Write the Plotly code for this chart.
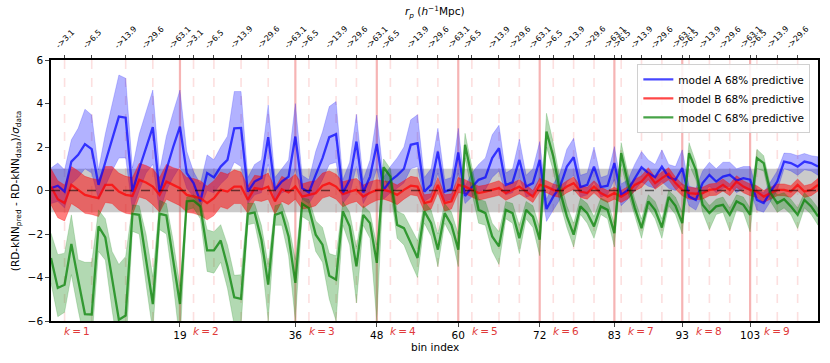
import plotly.graph_objects as go

# bin index (x) and the three models' 68% predictive bands
bins = list(range(114))

A_mid = [0.11, 0.22, -0.05, 1.33, 1.64, 2.13, 1.90, 0.26, 1.30, 2.40,
         3.40, 3.35, -0.05, 1.00, 2.00, 2.91, -0.09, 1.00, 2.00, 2.94,
         0.80, 0.34, -0.50, 0.80, 0.60, 1.10, 1.41, 2.86, 2.88, -0.05,
         0.41, 0.57, 2.45, 0.03, 0.41, 0.64, 2.48, 0.11, -0.09, 0.72,
         1.49, 2.45, 2.59, -0.12, 0.49, 2.25, -0.09, 0.64, 2.14, 0.03,
         0.45, 0.70, 1.00, 2.10, 2.18, -0.05, 0.26, 1.79, -0.05, 0.06,
         1.75, -0.25, 0.15, 0.49, 0.60, 1.49, 1.95, 0.26, 0.37, 1.41,
         0.18, 0.34, 1.41, -0.85, -0.28, 0.18, 1.10, 1.53, 0.16, 0.26,
         1.10, 0.16, 0.22, 1.26, -0.20, 0.03, 0.57, 1.07, 0.80, 0.61,
         1.10, 0.61, 0.49, 1.03, -0.28, -0.43, 0.34, 0.72, 0.41, 0.64,
         0.72, 0.46, 0.57, 0.50, -0.43, -0.58, -0.05, 0.41, 1.33, 1.26,
         1.10, 1.33, 1.26, 1.10]
A_hi = [1.03, 1.26, 0.95, 2.33, 2.86, 3.74, 3.47, 0.95, 2.60, 4.00,
        5.31, 5.16, 1.03, 2.60, 3.60, 4.62, 0.90, 2.50, 3.60, 4.62,
        1.80, 0.87, 0.30, 1.64, 1.41, 2.00, 2.50, 4.55, 4.55, 0.60,
        1.20, 1.40, 3.93, 0.60, 1.00, 1.40, 4.00, 0.70, 0.50, 1.80,
        2.70, 3.86, 4.09, 0.50, 1.30, 3.50, 0.50, 1.40, 3.47, 0.60,
        1.10, 1.50, 2.00, 3.25, 3.48, 0.60, 1.00, 2.86, 0.50, 0.60,
        2.86, 0.20, 0.80, 1.20, 1.50, 2.56, 3.00, 0.80, 1.00, 2.36,
        0.70, 1.00, 2.25, -0.40, 0.30, 0.80, 1.90, 2.40, 0.70, 0.80,
        2.00, 0.60, 0.70, 2.02, 0.30, 0.50, 1.20, 1.79, 1.40, 1.20,
        1.87, 1.20, 1.10, 1.87, 0.20, 0.10, 0.90, 1.30, 1.00, 1.30,
        1.30, 1.00, 1.10, 1.10, 0.00, -0.10, 0.40, 0.90, 1.72, 1.70,
        1.60, 1.70, 1.60, 1.55]
A_lo = [-0.60, -0.50, -0.80, 0.30, 0.60, 1.00, 0.80, -0.40, 0.20, 0.90,
        1.49, 1.50, -0.90, 0.00, 0.80, 1.20, -1.00, 0.00, 0.60, 1.10,
        0.10, -0.30, -0.80, 0.00, -0.10, 0.30, 0.60, 1.30, 1.10, -0.60,
        -0.20, -0.10, 1.20, -0.50, -0.10, 0.00, 1.00, -0.40, -0.60, -0.10,
        0.50, 1.20, 1.30, -0.60, -0.20, 1.10, -0.60, 0.00, 1.00, -0.40,
        -0.10, 0.10, 0.35, 1.00, 1.10, -0.50, -0.30, 0.80, -0.50, -0.40,
        0.80, -0.60, -0.30, -0.05, 0.05, 0.60, 0.90, -0.20, -0.10, 0.60,
        -0.30, -0.20, 0.60, -1.42, -0.90, -0.40, 0.40, 0.70, -0.30, -0.20,
        0.40, -0.30, -0.20, 0.50, -0.70, -0.40, 0.00, 0.40, 0.20, 0.10,
        0.40, 0.10, 0.00, 0.30, -0.70, -0.90, -0.20, 0.20, -0.10, 0.10,
        0.20, -0.10, 0.10, 0.00, -0.90, -1.00, -0.50, 0.00, 1.00, 0.90,
        0.70, 0.95, 0.90, 0.70]

B_mid = [0.18, -0.40, -0.58, 0.26, 0.03, -0.20, -0.28, -0.35, 0.26, 0.26,
         -0.05, -0.20, -0.25, 0.49, 0.37, 0.18, -0.20, 0.41, 0.26, 0.11,
         -0.20, -0.28, -0.35, -0.58, -0.35, 0.03, -0.05, 0.18, 0.18, -0.43,
         0.11, 0.06, 0.18, -0.50, 0.06, -0.09, 0.18, -0.28, -0.20, -0.12,
         0.22, 0.34, 0.18, -0.17, -0.05, 0.03, -0.28, -0.10, 0.03, 0.03,
         -0.05, -0.20, 0.03, 0.22, 0.18, -0.58, -0.50, 0.26, -0.58, -0.50,
         0.26, 0.18, 0.03, -0.12, -0.05, 0.03, 0.11, -0.12, 0.03, 0.18,
         -0.05, -0.28, 0.26, 0.18, 0.03, -0.05, 0.18, 0.34, -0.05, -0.12,
         0.18, -0.12, -0.28, -0.12, -0.28, -0.10, 0.26, 0.41, 0.77, 0.34,
         0.57, 0.77, 0.34, 0.03, -0.12, -0.15, -0.12, 0.03, 0.06, 0.26,
         0.03, 0.41, 0.18, 0.03, -0.05, -0.28, -0.12, 0.03, 0.03, -0.05,
         0.26, -0.05, 0.03, 0.26]
B_hi = [1.00, 0.45, 0.25, 1.10, 0.90, 0.65, 0.55, 0.50, 1.10, 1.10,
        0.80, 0.65, 0.60, 1.25, 1.15, 1.00, 0.60, 1.20, 1.05, 0.95,
        0.60, 0.55, 0.45, 0.20, 0.45, 0.85, 0.75, 0.95, 0.85, 0.20,
        0.70, 0.65, 0.80, 0.10, 0.65, 0.50, 0.75, 0.30, 0.40, 0.45,
        0.80, 0.90, 0.75, 0.40, 0.50, 0.55, 0.25, 0.40, 0.50, 0.45,
        0.40, 0.25, 0.45, 0.65, 0.60, -0.20, -0.15, 0.60, -0.20, -0.15,
        0.60, 0.50, 0.35, 0.20, 0.25, 0.35, 0.45, 0.20, 0.35, 0.50,
        0.25, 0.00, 0.55, 0.45, 0.30, 0.22, 0.45, 0.62, 0.22, 0.15,
        0.45, 0.15, 0.00, 0.15, 0.00, 0.18, 0.52, 0.68, 1.05, 0.62,
        0.85, 1.05, 0.62, 0.30, 0.15, 0.12, 0.15, 0.30, 0.33, 0.53,
        0.30, 0.68, 0.45, 0.30, 0.22, 0.00, 0.15, 0.30, 0.30, 0.22,
        0.53, 0.22, 0.30, 0.55]
B_lo = [-0.65, -1.25, -1.40, -0.60, -0.80, -1.05, -1.10, -1.20, -0.55, -0.60,
        -0.90, -1.05, -1.10, -0.30, -0.40, -0.65, -1.00, -0.40, -0.55, -0.70,
        -1.00, -1.05, -1.15, -1.35, -1.15, -0.75, -0.85, -0.60, -0.60, -1.05,
        -0.45, -0.50, -0.40, -1.10, -0.50, -0.65, -0.40, -0.85, -0.80, -0.70,
        -0.35, -0.25, -0.40, -0.75, -0.60, -0.50, -0.80, -0.60, -0.45, -0.40,
        -0.50, -0.65, -0.40, -0.20, -0.25, -0.95, -0.85, -0.10, -0.95, -0.85,
        -0.10, -0.15, -0.30, -0.45, -0.35, -0.30, -0.22, -0.45, -0.30, -0.15,
        -0.35, -0.55, -0.05, -0.10, -0.25, -0.32, -0.10, 0.05, -0.32, -0.40,
        -0.10, -0.40, -0.55, -0.40, -0.55, -0.38, -0.02, 0.14, 0.50, 0.06,
        0.29, 0.49, 0.06, -0.24, -0.40, -0.42, -0.40, -0.24, -0.22, -0.02,
        -0.24, 0.14, -0.10, -0.24, -0.32, -0.55, -0.40, -0.24, -0.24, -0.32,
        -0.02, -0.32, -0.24, -0.02]

C_mid = [-3.10, -4.48, -4.33, -2.46, -4.10, -5.68, -5.70, -1.65, -2.16, -4.00,
         -5.94, -5.75, -1.07, -1.12, -3.10, -5.22, -1.07, -1.15, -3.20, -5.22,
         -0.50, -0.47, -0.73, -2.75, -2.75, -2.30, -3.49, -4.91, -4.98, -1.07,
         -1.01, -2.26, -4.33, -1.12, -1.01, -2.11, -4.25, -0.61, -0.81, -2.03,
         -2.49, -3.92, -4.10, -0.96, -1.65, -3.49, -1.12, -1.50, -3.33, 1.07,
         0.64, -1.58, -1.73, -2.40, -3.10, -0.96, -1.50, -2.72, -1.04, -1.58,
         -2.72, 2.10, 0.64, -0.89, -1.04, -2.11, -2.57, -0.89, -1.04, -2.19,
         -0.89, -1.20, -2.26, 2.71, 1.56, -0.04, -1.19, -2.03, -0.73, -1.04,
         -1.65, -0.73, -0.89, -1.96, 1.72, 0.34, -0.80, -1.73, -0.50, -0.90,
         -1.70, -0.30, -0.70, -1.50, 1.72, 0.95, -0.66, -1.04, -0.73, -0.66,
         -1.12, -0.50, -0.66, -1.12, 1.49, 1.26, -0.12, -0.58, -0.40, -0.73,
         -1.12, -0.43, -0.73, -1.19]
C_hi = [-1.96, -2.95, -2.88, -1.12, -3.18, -3.30, -3.30, -0.89, -1.30, -2.80,
        -3.40, -3.03, -0.66, -0.70, -2.00, -3.95, -0.45, -0.60, -2.30, -4.40,
        -0.30, -0.20, -0.40, -1.80, -1.90, -1.57, -2.50, -3.90, -3.87, -0.58,
        -0.60, -1.60, -3.40, -0.70, -0.60, -1.50, -3.18, -0.35, -0.40, -1.40,
        -1.70, -2.90, -3.00, -0.50, -1.00, -2.60, -0.70, -1.00, -2.50, 1.45,
        1.00, -0.95, -1.10, -1.70, -2.30, -0.50, -0.90, -2.00, -0.60, -1.00,
        -2.00, 2.63, 1.10, -0.40, -0.50, -1.50, -1.90, -0.50, -0.60, -1.60,
        -0.50, -0.70, -1.70, 3.55, 2.20, 0.50, -0.70, -1.50, -0.35, -0.60,
        -1.20, -0.35, -0.50, -1.50, 2.20, 0.80, -0.40, -1.30, -0.20, -0.50,
        -1.30, 0.00, -0.30, -1.00, 2.20, 1.30, -0.30, -0.70, -0.40, -0.30,
        -0.80, -0.20, -0.30, -0.80, 1.90, 1.60, 0.20, -0.20, -0.10, -0.40,
        -0.80, -0.10, -0.40, -0.80]
C_lo = [-4.25, -5.80, -5.60, -3.87, -5.50, -7.00, -7.00, -2.80, -3.20, -5.50,
        -7.50, -7.50, -1.88, -2.00, -4.30, -6.50, -1.80, -2.00, -4.30, -7.00,
        -0.90, -0.80, -1.30, -3.72, -3.80, -3.30, -4.50, -6.20, -6.20, -1.58,
        -1.50, -3.00, -6.00, -1.60, -1.60, -3.00, -6.00, -1.20, -1.40, -2.80,
        -3.30, -5.00, -6.00, -1.60, -2.50, -5.17, -1.60, -2.20, -6.00, 0.60,
        0.00, -2.20, -2.50, -3.30, -4.00, -1.50, -2.10, -3.50, -1.50, -2.10,
        -3.50, 1.50, -0.10, -1.50, -1.60, -2.80, -3.40, -1.30, -1.50, -2.90,
        -1.30, -1.70, -3.00, 2.00, 0.90, -0.60, -1.70, -2.60, -1.10, -1.50,
        -2.20, -1.10, -1.30, -2.60, 1.20, -0.10, -1.20, -2.20, -0.80, -1.30,
        -2.20, -0.70, -1.10, -2.00, 1.20, 0.50, -1.00, -1.80, -1.10, -1.00,
        -1.85, -0.90, -1.00, -1.90, 1.00, 0.90, -0.50, -1.00, -0.80, -1.10,
        -1.75, -0.80, -1.10, -1.60]

# k-block boundaries (bottom axis) and r_p bin edges (top axis)
k_starts = [0, 19, 36, 48, 60, 72, 83, 93, 103]
boundaries = [19, 36, 48, 60, 72, 83, 93, 103]
rp_pos = [2, 6, 11, 15, 19, 21, 24, 28, 32, 36, 38, 42, 45, 48, 50, 54, 57, 60,
          62, 66, 69, 72, 74, 77, 80, 83, 84, 87, 90, 93, 94, 97, 100, 103,
          104, 107, 110]
rp_txt = ["->3.1", "->6.5", "->13.9", "->29.6", "->63.1",
          "->3.1", "->6.5", "->13.9", "->29.6", "->63.1"] + \
         ["->6.5", "->13.9", "->29.6", "->63.1"] * 6 + \
         ["->6.5", "->13.9", "->29.6"]

models = [
    ("model A 68% predictive", A_mid, A_lo, A_hi, "rgba(0,0,255,0.72)", "rgba(0,0,255,0.3)"),
    ("model B 68% predictive", B_mid, B_lo, B_hi, "rgba(255,0,0,0.72)", "rgba(255,0,0,0.5)"),
    ("model C 68% predictive", C_mid, C_lo, C_hi, "rgba(0,128,0,0.72)", "rgba(0,128,0,0.3)"),
]

fig = go.Figure()

# grey +-1 sigma band
fig.add_shape(type="rect", xref="x", yref="y", x0=0, x1=113, y0=-1, y1=1,
              fillcolor="rgba(128,128,128,0.42)", line_width=0, layer="below")

# r_p edges (dashed) and k boundaries (solid)
for p in rp_pos:
    if p in boundaries:
        continue
    fig.add_shape(type="line", xref="x", yref="paper", x0=p, x1=p, y0=0, y1=1,
                  line=dict(color="rgba(240,80,80,0.18)", width=1.6, dash="dash"),
                  layer="below")
for b in boundaries:
    fig.add_shape(type="line", xref="x", yref="paper", x0=b, x1=b, y0=0, y1=1,
                  line=dict(color="rgba(230,40,40,0.35)", width=2.2), layer="below")

for name, mid, lo, hi, lc, fc in models:
    fig.add_trace(go.Scatter(x=bins + bins[::-1], y=hi + lo[::-1], fill="toself",
                             fillcolor=fc, line=dict(color=fc, width=0.6),
                             mode="lines", showlegend=False, hoverinfo="skip"))

fig.add_shape(type="line", xref="x", yref="y", x0=0, x1=113, y0=0, y1=0,
              line=dict(color="rgba(0,0,0,0.55)", width=1.6, dash="dash"))

for name, mid, lo, hi, lc, fc in models:
    fig.add_trace(go.Scatter(x=bins, y=mid, mode="lines", name=name,
                             line=dict(color=lc, width=2.3)))

# dummy trace so the top axis is drawn
fig.add_trace(go.Scatter(x=[0], y=[0], xaxis="x2", mode="markers",
                         marker=dict(opacity=0), showlegend=False, hoverinfo="skip"))

# rotated r_p labels on top
for p, t in zip(rp_pos, rp_txt):
    fig.add_annotation(x=p, y=1.027, xref="x", yref="paper", text=t, textangle=-45,
                       showarrow=False, xanchor="center", yanchor="bottom",
                       font=dict(size=8))

for i, s in enumerate(k_starts):
    fig.add_annotation(x=s + 3.9, y=-0.038, xref="x", yref="paper",
                       text="<i>k</i>\u2009=\u2009%d" % (i + 1), showarrow=False,
                       font=dict(size=10.5, color="#e03a3a"), yanchor="middle")

fig.add_annotation(x=0.5, y=-0.098, xref="paper", yref="paper", text="bin index",
                   showarrow=False, font=dict(size=10.5), yanchor="middle")
fig.add_annotation(x=0.5, y=1.185, xref="paper", yref="paper",
                   text="<i>r<sub>p</sub></i> (<i>h</i><sup>−1</sup>Mpc)",
                   showarrow=False, font=dict(size=10.5), yanchor="middle")
fig.add_annotation(x=-0.046, y=0.5, xref="paper", yref="paper", textangle=-90,
                   text="(RD-kNN<sub>pred</sub> - RD-kNN<sub>data</sub>)/<i>σ</i><sub>data</sub>",
                   showarrow=False, font=dict(size=10.5), xanchor="center")

fig.update_layout(
    width=830, height=363,
    margin=dict(l=51, r=12, t=60, b=42),
    plot_bgcolor="white", paper_bgcolor="white",
    font=dict(family="DejaVu Sans", size=10.5, color="black"),
    legend=dict(x=0.99, y=0.985, xanchor="right", yanchor="top",
                bgcolor="rgba(255,255,255,0.85)", bordercolor="#d0d0d0", borderwidth=1,
                font=dict(size=10.5), tracegroupgap=0),
    xaxis=dict(range=[0, 113], tickvals=boundaries, ticktext=[str(b) for b in boundaries],
               ticks="outside", ticklen=4, showline=True, linecolor="black", linewidth=1.6,
               showgrid=False, zeroline=False, automargin=False),
    xaxis2=dict(overlaying="x", side="top", range=[0, 113], tickvals=rp_pos,
                showticklabels=False, ticks="outside", ticklen=3, showline=True,
                linecolor="black", linewidth=1.6, showgrid=False, zeroline=False,
                automargin=False),
    yaxis=dict(range=[-6, 6], tickvals=[-6, -4, -2, 0, 2, 4, 6], ticks="outside", ticklen=4,
               showline=True, mirror=True, linecolor="black", linewidth=1.6,
               showgrid=False, zeroline=False, automargin=False),
)

# drop the default page margin so the figure sits at the window's origin
fig.write_html("out.html", config={"displayModeBar": False},
               post_script="document.body.style.margin='0px';")
